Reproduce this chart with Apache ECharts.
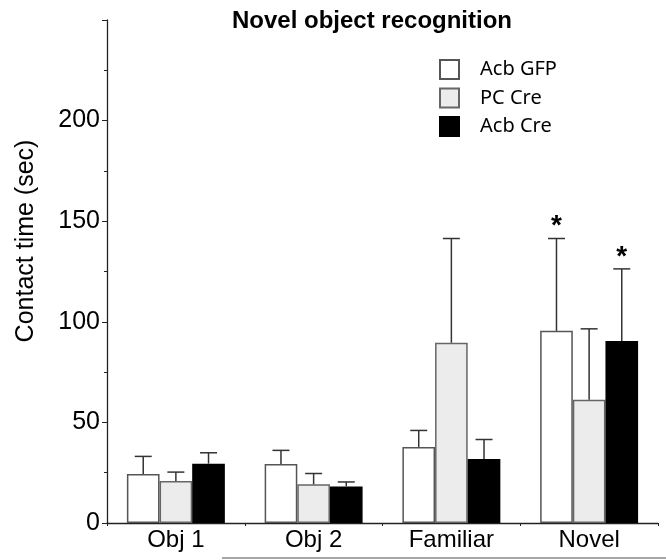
<!DOCTYPE html>
<html>
<head>
<meta charset="UTF-8">
<title>Novel object recognition</title>
<script src="https://cdn.jsdelivr.net/npm/echarts@6/dist/echarts.min.js"></script>
<style>
  html, body { margin: 0; padding: 0; background: #fff; }
  #container { width: 666px; height: 560px; }
</style>
</head>
<body>
<div id="container"></div>
<script>
// data
var categories = ['Obj 1', 'Obj 2', 'Familiar', 'Novel'];
var seriesNames = ['Acb GFP', 'PC Cre', 'Acb Cre'];
var acbGfp = [24.3, 29.3, 37.8, 95.5];
var pcCre = [20.9, 19.2, 89.6, 61.3];
var acbCre = [29.5, 18.2, 31.8, 90.4];
// upper ends of the error bars
var acbGfpErr = [33.1, 36.1, 46.0, 141.4];
var pcCreErr = [25.3, 24.6, 141.4, 96.5];
var acbCreErr = [34.9, 20.4, 41.5, 126.3];
// significance marks
var acbGfpStar = [false, false, false, true];
var pcCreStar = [false, false, false, false];
var acbCreStar = [false, false, false, true];
var yTicks = [0, 50, 100, 150, 200];

var values = [acbGfp, pcCre, acbCre];
var errs = [acbGfpErr, pcCreErr, acbCreErr];
var stars = [acbGfpStar, pcCreStar, acbCreStar];
var fills = ['#ffffff', '#ececec', '#000000'];
var borders = ['#555555', '#666666', '#000000'];
var barFrac = 0.237;

var dom = document.getElementById('container');
var myChart = echarts.init(dom, null, {renderer: 'canvas'});

var series = [];
// bars
for (var i = 0; i < 3; i++) {
  series.push({
    name: seriesNames[i],
    type: 'bar',
    data: values[i],
    barWidth: (barFrac * 100) + '%',
    barGap: '0%',
    z: 2,
    itemStyle: {color: fills[i], borderColor: borders[i], borderWidth: 1.5}
  });
}
// error bars (upper only) + stars
for (var j = 0; j < 3; j++) {
  (function (k) {
    var data = categories.map(function (c, n) {
      return [n, values[k][n], errs[k][n], stars[k][n] ? 1 : 0];
    });
    series.push({
      type: 'custom',
      name: seriesNames[k] + ' err',
      z: 3,
      silent: true,
      data: data,
      renderItem: function (params, api) {
        var band = api.size([1, 0])[0];
        var w = band * barFrac;
        var low = api.coord([api.value(0), api.value(1)]);
        var high = api.coord([api.value(0), api.value(2)]);
        var x = low[0] + (k - 1) * w;
        var children = [
          {type: 'line', shape: {x1: x, y1: low[1], x2: x, y2: high[1]},
           style: {stroke: '#333', lineWidth: 1.5}},
          {type: 'line', shape: {x1: x - 8.5, y1: high[1], x2: x + 8.5, y2: high[1]},
           style: {stroke: '#333', lineWidth: 1.5}}
        ];
        if (api.value(3)) {
          children.push({
            type: 'text',
            style: {text: '*', x: x, y: high[1] + 2, align: 'center', verticalAlign: 'bottom',
                    font: 'bold 28px "Liberation Sans", Arial, sans-serif', fill: '#000'}
          });
        }
        return {type: 'group', children: children};
      }
    });
  })(j);
}

var option = {
  animation: false,
  backgroundColor: '#fff',
  title: {
    text: 'Novel object recognition',
    left: 367, top: 4, textAlign: 'center',
    textStyle: {fontFamily: '"Liberation Sans", Arial, sans-serif', fontWeight: 'bold', fontSize: 24, color: '#000'}
  },
  legend: {
    data: seriesNames,
    orient: 'vertical',
    left: 439, top: 59,
    padding: 0,
    itemWidth: 19, itemHeight: 19, itemGap: 7.5,
    icon: 'rect',
    textStyle: {fontFamily: '"Noto Sans", sans-serif', fontSize: 20, lineHeight: 19, color: '#000', padding: [0, 0, 0, 16]}
  },
  grid: {left: 107, right: 8, top: 20, bottom: 37, containLabel: false},
  xAxis: {
    type: 'category',
    data: categories,
    axisLine: {lineStyle: {color: '#222', width: 1.3}},
    axisTick: {show: true, length: 3, lineStyle: {color: '#222'}},
    axisLabel: {margin: 5, fontFamily: '"Liberation Sans", Arial, sans-serif', fontSize: 24, color: '#000'}
  },
  yAxis: {
    type: 'value',
    min: 0, max: 250, interval: 50,
    splitLine: {show: false},
    axisLine: {show: true, lineStyle: {color: '#222', width: 1.3}},
    axisTick: {show: true, length: 5, lineStyle: {color: '#222'}},
    minorTick: {show: true, splitNumber: 2, length: 3, lineStyle: {color: '#222'}},
    axisLabel: {
      margin: 7,
      fontFamily: '"Liberation Sans", Arial, sans-serif', fontSize: 25, color: '#000',
      formatter: function (v) { return yTicks.indexOf(v) >= 0 ? String(v) : ''; }
    }
  },
  graphic: [
    {
      type: 'text', x: 26, y: 241, rotation: Math.PI / 2,
      style: {text: 'Contact time (sec)', align: 'center', verticalAlign: 'middle',
              font: '25px "Liberation Sans", Arial, sans-serif', fill: '#000'}
    },
    {
      type: 'line', shape: {x1: 222, y1: 558, x2: 666, y2: 558},
      style: {stroke: '#888', lineWidth: 1.5}
    }
  ],
  series: series
};

myChart.setOption(option, true);
</script>
</body>
</html>
